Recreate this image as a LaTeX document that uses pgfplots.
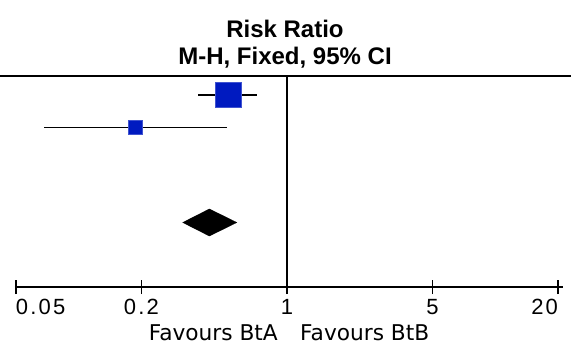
\documentclass[border=0pt]{standalone}
\usepackage{pgfplots}
\pgfplotsset{compat=1.18}
\usepackage{fontspec}
\setmainfont{Liberation Sans}
\newfontfamily\tickfont[LetterSpace=10]{Liberation Sans}
\newfontfamily\labfont{DejaVu Sans}
\newfontfamily\titfont{Liberation Sans}
\definecolor{rmblue}{RGB}{0,26,192}
\begin{document}
\begin{tikzpicture}[x=1pt,y=1pt]
\useasboundingbox (0,0) rectangle (571,345);
\begin{axis}[
  at={(16pt,58pt)}, anchor=south west,
  scale only axis, width=542pt, height=211pt,
  xmode=log, xmin=0.05, xmax=20,
  ymin=76, ymax=287, y dir=reverse,
  axis x line*=bottom, axis y line=none,
  x axis line style={line width=1.3pt, shorten <=-1pt, shorten >=-5pt},
  xtick={0.05,0.2,1,5,20},
  xticklabels={\makebox[0pt][l]{0.05},0.2,1,5,\makebox[0pt][r]{20}},
  minor xtick={},
  tick align=center, major tick length=14pt,
  every tick/.style={black, line width=1.2pt},
  xticklabel style={font=\tickfont\fontsize{22}{22}\selectfont, anchor=north, inner sep=0pt, yshift=-5pt},
  clip=false,
]
\addplot[black, line width=1.4pt] coordinates {(1,76) (1,287)};
% study 1
\addplot[black, line width=1.4pt] coordinates {(0.374,95) (0.715,95)};
\addplot[only marks, mark=square*, mark size=12.8pt, mark options={fill=rmblue, draw=rmblue!75!white, line width=0.6pt}] coordinates {(0.521,95)};
% study 2
\addplot[black, line width=1.4pt] coordinates {(0.0684,127.3) (0.513,127.3)};
\addplot[only marks, mark=square*, mark size=7pt, mark options={fill=rmblue, draw=rmblue!75!white, line width=0.6pt}] coordinates {(0.188,127.3)};
% pooled
\addplot[fill=black, draw=black] coordinates {(0.316,222.5) (0.424,209) (0.574,222.5) (0.424,236)} -- cycle;
\end{axis}
\draw[line width=2pt] (0,268.8) -- (571,268.8);
\node[font=\titfont\bfseries\fontsize{24}{24}\selectfont, anchor=base, inner sep=0pt] at (285,307.3) {Risk Ratio};
\node[font=\titfont\bfseries\fontsize{24}{24}\selectfont, anchor=base, inner sep=0pt] at (285,280) {M-H, Fixed, 95\% CI};
\node[font=\labfont\fontsize{21.7}{21.7}\selectfont, anchor=base east, inner sep=0pt] at (278,4.8) {Favours BtA};
\node[font=\labfont\fontsize{21.7}{21.7}\selectfont, anchor=base west, inner sep=0pt] at (300,4.8) {Favours BtB};
\end{tikzpicture}
\end{document}
